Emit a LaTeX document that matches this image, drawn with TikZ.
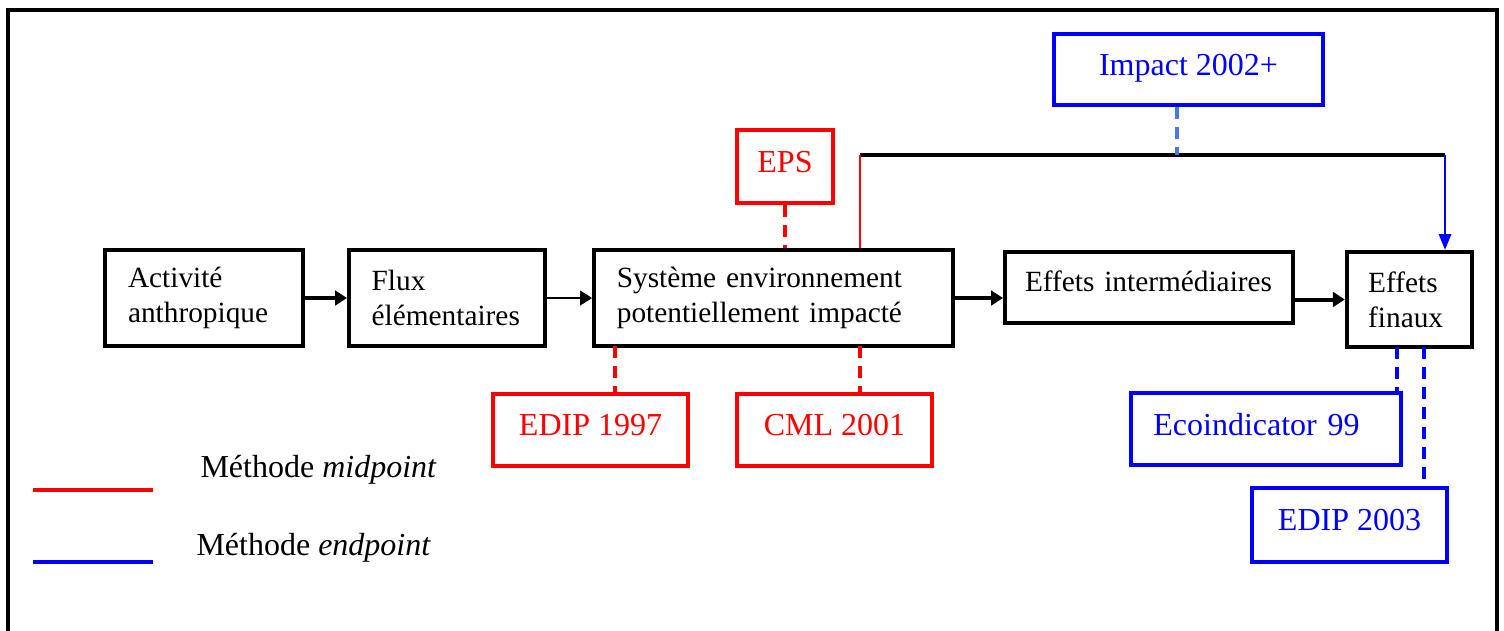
\documentclass[tikz,border=0pt]{standalone}
\usepackage{fontspec}
\setmainfont{Liberation Serif}
\usetikzlibrary{arrows.meta}

\definecolor{lightblue}{RGB}{70,120,240}
\tikzset{
  every node/.style={font=\fontsize{12}{13.2}\selectfont},
  blk/.style={draw, line width=1.5pt, align=left, inner xsep=8.5pt, inner ysep=0pt,
    font=\fontsize{11}{13.1}\selectfont},
  mbox/.style={draw=#1, text=#1, line width=1.5pt, align=center, inner sep=0pt, text depth=3.5pt},
  flow/.style={line width=1.5pt, -{Triangle[length=4.5pt,width=5.5pt]}},
  link/.style={line width=1.2pt, dash pattern=on 4.5pt off 3pt}
}

\begin{document}
\begin{tikzpicture}[x=0.375pt,y=-0.375pt]
    \useasboundingbox (0,0) rectangle (1504,630);
    \draw[line width=1.2pt] (8,640) -- (8,10) -- (1497,10) -- (1497,640);

    % chaine de cause a effet
    \node[blk, text width=57pt, minimum height=36pt] (act) at (204,298) {Activité\\anthropique};
    \node[blk, text width=56.5pt, minimum height=36pt] (flux) at (447,298) {Flux\\élémentaires};
    \node[blk, text width=117.5pt, minimum height=36pt] (sys) at (773.5,298) {Système environnement\\potentiellement impacté};
    \node[blk, text width=93pt, inner xsep=7.5pt, text depth=5pt, minimum height=26.6pt] (ei) at (1149,287.5) {Effets intermédiaires};
    \node[blk, text width=31pt, inner xsep=8pt, minimum height=35.6pt] (ef) at (1409.5,299.5) {Effets\\finaux};

    \draw[flow] (act) -- (flux);
    \draw[flow, line width=0.6pt] (flux) -- (sys);
    \draw[flow] (sys.east) -- (sys.east -| ei.west);
    \draw[flow] (ei.east |- ef.west) -- (ef.west);

    % methodes
    \node[mbox=red, minimum width=36pt, minimum height=27.4pt] (eps) at (785,166.5) {EPS};
    \node[mbox=blue, minimum width=100.9pt, minimum height=26.6pt] (imp) at (1188.5,69.5) {Impact 2002+};
    \node[mbox=red, minimum width=73.1pt, minimum height=27pt] (ed97) at (590.5,430) {EDIP 1997};
    \node[mbox=red, minimum width=73.1pt, minimum height=27pt] (cml) at (834.5,430) {CML 2001};
    \node[mbox=blue, minimum width=101.25pt, minimum height=27pt, align=left, text width=84.5pt, inner xsep=8.4pt] (eco) at (1266,429) {Ecoindicator 99};
    \node[mbox=blue, minimum width=73.1pt, minimum height=27.75pt] (ed03) at (1349.5,525) {EDIP 2003};

    \coordinate (jl) at (860,155);
    \coordinate (jr) at (1445,155);
    \coordinate (ji) at (1177,155);
    \coordinate (s1) at (615,346);
    \coordinate (s2) at (860,346);
    \coordinate (e1) at (1397,347);
    \coordinate (e2) at (1424,347);

    \draw[line width=1.2pt] (jl) -- (jr);
    \draw[red, line width=1pt] (jl) -- (jl |- sys.north);
    \draw[blue, line width=1.1pt, -{Triangle[length=6pt,width=4.5pt]}] (jr) -- (jr |- ef.north);
    \draw[link, lightblue] (ji |- imp.south) -- (ji);
    \draw[link, red] (eps.south) -- (eps.south |- sys.north);
    \draw[link, red] (s1) -- (s1 |- ed97.north);
    \draw[link, red] (s2) -- (s2 |- cml.north);
    \draw[link, blue] (e1) -- (e1 |- eco.north);
    \draw[link, blue] (e2) -- (e2 |- ed03.north);

    % legende
    \draw[red, line width=1.5pt] (33,490) -- (153,490);
    \draw[blue, line width=1.5pt] (33,562) -- (153,562);
    \node[anchor=west, inner sep=0pt] (lm) at (200,470) {Méthode \textit{midpoint}};
    \node[anchor=west, inner sep=0pt] (le) at (196,548) {Méthode \textit{endpoint}};
\end{tikzpicture}
\end{document}
